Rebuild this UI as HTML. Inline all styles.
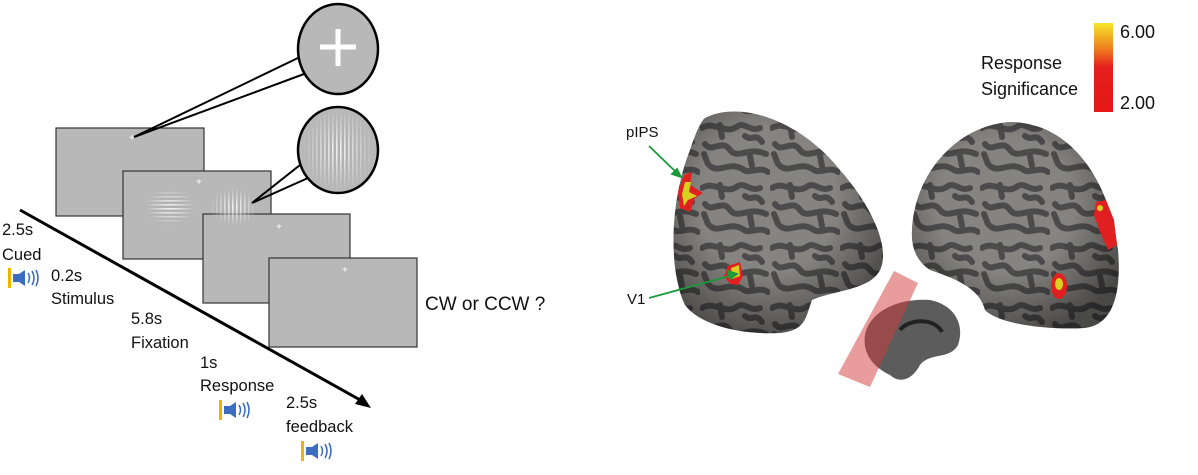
<!DOCTYPE html>
<html><head><meta charset="utf-8"><style>
html,body{margin:0;padding:0;background:#fff}
svg{display:block}
text{font-family:"Liberation Sans",sans-serif;fill:#111}
</style></head><body>
<svg width="1198" height="475" viewBox="0 0 1198 475" xmlns="http://www.w3.org/2000/svg">
<defs>
<pattern id="vs" width="4" height="4" patternUnits="userSpaceOnUse"><rect width="4" height="4" fill="#b0b0b0"/><rect width="1.6" height="4" fill="#f4f4f4"/></pattern>
<pattern id="hs" width="4" height="4" patternUnits="userSpaceOnUse"><rect width="4" height="4" fill="#b0b0b0"/><rect width="4" height="1.6" fill="#f4f4f4"/></pattern>
<radialGradient id="fade"><stop offset="0" stop-color="#fff" stop-opacity="1"/><stop offset="1" stop-color="#fff" stop-opacity="0"/></radialGradient>
<mask id="m1" maskContentUnits="objectBoundingBox"><rect width="1" height="1" fill="url(#fade)"/></mask>
<linearGradient id="cb" x1="0" y1="0" x2="0" y2="1"><stop offset="0" stop-color="#f5e62a"/><stop offset="0.3" stop-color="#ee7a1e"/><stop offset="0.5" stop-color="#e41e1e"/><stop offset="1" stop-color="#e41818"/></linearGradient>
<radialGradient id="shade" cx="0.45" cy="0.4" r="0.65"><stop offset="0.5" stop-color="#000" stop-opacity="0"/><stop offset="1" stop-color="#000" stop-opacity="0.45"/></radialGradient>
<pattern id="gyri" width="70" height="60" patternUnits="userSpaceOnUse">
<rect width="70" height="60" fill="#858480"/>
<path d="M2 8 C15 0 25 16 38 6 C45 2 50 12 60 8 M5 24 C12 34 22 18 30 30 C38 40 48 26 66 34 M10 46 C20 54 30 40 44 50 C50 54 60 46 68 52 M45 16 C52 22 55 12 62 22 M20 5 L22 17 M50 36 L52 46 M4 34 L8 44" stroke="#4b4b4b" stroke-width="6" fill="none" stroke-linecap="round"/>
</pattern>
<g id="spk">
<rect x="0" y="0" width="3" height="20" fill="#f0b400"/>
<path d="M5,6 H11 L17,2 V18 L11,14 H5 Z" fill="#3a6cc0"/>
<path d="M20,5 Q23,10 20,15 M24,3 Q28,10 24,17 M28,2 Q32,10 28,18" stroke="#3a6cc0" stroke-width="1.5" fill="none"/>
</g>
</defs>

<!-- Left panel -->
<g stroke="#333" stroke-width="1.2" fill="#b8b8b8">
<rect x="56" y="128" width="148" height="88"/>
<rect x="123" y="171" width="148" height="88"/>
<rect x="203" y="214" width="147" height="89"/>
<rect x="269" y="258" width="148" height="89"/>
</g>
<rect x="145" y="188" width="50" height="38" fill="url(#hs)" mask="url(#m1)"/>
<rect x="210" y="188" width="48" height="38" fill="url(#vs)" mask="url(#m1)"/>
<g font-size="10"><text x="129" y="141" style="fill:#fff">+</text><text x="196" y="185" style="fill:#fff">+</text><text x="276" y="230" style="fill:#fff">+</text><text x="342" y="273" style="fill:#fff">+</text></g>
<g stroke="#000" stroke-width="2" fill="none">
<path d="M134,137 L300,57 M134,137 L304,74"/>
<path d="M252,203 L300,165 M252,203 L308,178"/>
</g>
<ellipse cx="338" cy="49" rx="40" ry="45" fill="#b8b8b8" stroke="#000" stroke-width="2.5"/>
<path d="M338,29 V66 M320,47 H356" stroke="#fff" stroke-width="5"/>
<ellipse cx="338" cy="150" rx="40" ry="43" fill="#b8b8b8" stroke="#000" stroke-width="2.5"/>
<ellipse cx="338" cy="150" rx="36" ry="40" fill="url(#vs)" mask="url(#m1)"/>
<line x1="20" y1="210" x2="362" y2="401" stroke="#000" stroke-width="3"/>
<polygon points="371,408 355,404 362,394" fill="#000"/>
<g font-size="16.5">
<text x="2" y="235">2.5s</text><text x="2" y="260">Cued</text>
<text x="51" y="281">0.2s</text><text x="51" y="304">Stimulus</text>
<text x="131" y="324">5.8s</text><text x="131" y="348">Fixation</text>
<text x="200" y="368">1s</text><text x="200" y="391">Response</text>
<text x="286" y="408">2.5s</text><text x="286" y="432">feedback</text>
</g>
<text x="425" y="310" font-size="19">CW or CCW ?</text>
<use href="#spk" x="8" y="268"/>
<use href="#spk" x="219" y="400"/>
<use href="#spk" x="301" y="441"/>

<!-- Right panel -->
<rect x="1094" y="23" width="19" height="89" fill="url(#cb)"/>
<g font-size="18"><text x="1120" y="38">6.00</text><text x="1120" y="109">2.00</text>
<text x="981" y="69">Response</text><text x="981" y="95">Significance</text></g>

<path d="M705,118 C740,100 800,120 840,170 C875,210 890,250 880,270 C870,290 835,290 812,300 C805,320 805,330 780,333 C740,335 700,325 685,305 C668,270 670,200 690,150 C695,135 700,122 705,118 Z" fill="url(#gyri)"/>
<path d="M705,118 C740,100 800,120 840,170 C875,210 890,250 880,270 C870,290 835,290 812,300 C805,320 805,330 780,333 C740,335 700,325 685,305 C668,270 670,200 690,150 C695,135 700,122 705,118 Z" fill="url(#shade)"/>
<path d="M912,230 C915,170 960,125 1010,122 C1070,122 1110,180 1118,250 C1122,300 1110,325 1085,328 C1050,330 1000,325 985,310 C980,290 960,280 930,270 C915,260 911,245 912,230 Z" fill="url(#gyri)"/>
<path d="M912,230 C915,170 960,125 1010,122 C1070,122 1110,180 1118,250 C1122,300 1110,325 1085,328 C1050,330 1000,325 985,310 C980,290 960,280 930,270 C915,260 911,245 912,230 Z" fill="url(#shade)"/>
<!-- mid brain -->
<path d="M865,335 C870,310 900,298 930,300 C955,305 965,325 958,345 C950,360 930,352 920,365 C912,380 900,384 890,375 C875,368 862,355 865,335 Z" fill="#5c5c5c"/>
<path d="M900,330 C910,318 935,318 942,332" stroke="#222" stroke-width="4" fill="none"/>
<polygon points="894,271 918,283 870,387 838,374" fill="#d23a3a" fill-opacity="0.5"/>
<!-- activations -->
<path d="M684,175 L692,172 L690,185 L703,193 L695,198 L690,212 L680,208 L678,192 Z" fill="#e02020"/>
<path d="M685,182 L691,182 L689,192 L697,196 L688,200 L684,206 L682,194 Z" fill="#d8d020"/>
<path d="M728,266 L740,262 L743,276 L738,285 L730,284 L724,276 Z" fill="#e02020"/>
<path d="M731,268 L739,265 L740,276 L732,279 Z" fill="#d8d020"/>
<path d="M1096,202 L1106,200 L1114,220 L1117,245 L1108,250 L1100,232 L1094,215 Z" fill="#e02020"/>
<circle cx="1100" cy="208" r="3" fill="#d8d020"/>
<ellipse cx="1059" cy="286" rx="8" ry="13" fill="#e02020"/>
<ellipse cx="1059" cy="284" rx="4" ry="6" fill="#d8d020"/>
<!-- labels -->
<text x="626" y="137" font-size="15">pIPS</text>
<text x="627" y="304" font-size="15">V1</text>
<g stroke="#1a9a3a" stroke-width="1.8" fill="#1a9a3a">
<line x1="649" y1="146" x2="678" y2="174"/><polygon points="681,177 672,174 677,169"/>
<line x1="649" y1="298" x2="733" y2="275"/><polygon points="737,274 728,271 730,279"/>
</g>
</svg>
</body></html>
